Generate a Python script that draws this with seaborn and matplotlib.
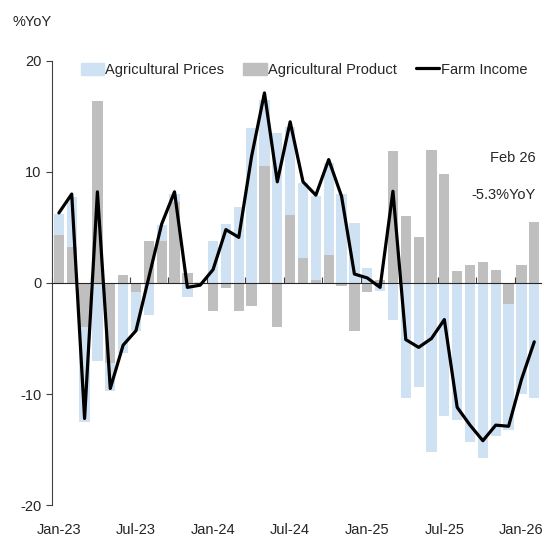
import numpy as np
import pandas as pd
import matplotlib
matplotlib.use("Agg")
import matplotlib.pyplot as plt
from matplotlib.patches import Patch
from matplotlib.lines import Line2D
import seaborn as sns

# monthly %YoY, Jan-23 .. Feb-26
months = pd.date_range("2023-01-01", periods=38, freq="MS")
ag_prices = [6.2, 7.7, -12.5, -7.0, -9.7, -6.3, -4.3, -2.9, 5.2, 8.0,
             -1.3, 0.1, 3.8, 5.3, 6.8, 13.9, 16.5, 13.5, 14.0, 9.0,
             7.8, 10.8, 8.0, 5.4, 1.3, -0.75, -3.3, -10.4, -9.4, -15.2,
             -12.0, -12.3, -14.3, -15.8, -13.8, -13.2, -10.0, -10.4]
ag_product = [4.3, 3.2, -4.0, 16.4, -7.2, 0.7, -0.8, 3.8, 3.8, 7.3,
              0.9, -0.1, -2.5, -0.5, -2.5, -2.1, 10.5, -4.0, 6.1, 2.2,
              0.3, 2.5, -0.3, -4.3, -0.8, 0.3, 11.9, 6.0, 4.1, 12.0,
              9.8, 1.1, 1.6, 1.9, 1.2, -1.9, 1.6, 5.5]
farm_income = [6.3, 8.0, -12.2, 8.2, -9.5, -5.6, -4.3, 0.5, 5.3, 8.2,
               -0.4, -0.2, 1.2, 4.8, 4.1, 11.4, 17.1, 9.1, 14.5, 9.1,
               7.9, 11.1, 7.8, 0.8, 0.45, -0.4, 8.25, -5.1, -5.8, -5.0,
               -3.3, -11.2, -12.8, -14.2, -12.8, -12.9, -8.7, -5.3]

df = pd.DataFrame({"idx": np.arange(len(months)),
                   "prices": ag_prices,
                   "product": ag_product,
                   "income": farm_income})

blue = "#cfe2f3"
grey = "#bfbfbf"

sns.set_style("white")
plt.rcParams["font.family"] = ["Liberation Sans", "DejaVu Sans"]
plt.rcParams["font.size"] = 10.5
plt.rcParams["axes.unicode_minus"] = False

fig = plt.figure(figsize=(5.58, 5.42), dpi=100)
ax = fig.add_axes([0.094, 0.068, 0.875, 0.82])

sns.barplot(data=df, x="idx", y="prices", color=blue, width=0.8,
            saturation=1, linewidth=0, ax=ax, zorder=1)
sns.barplot(data=df, x="idx", y="product", color=grey, width=0.8,
            saturation=1, linewidth=0, ax=ax, zorder=2)
sns.lineplot(data=df, x="idx", y="income", color="black", lw=2.3,
             ax=ax, zorder=4)

ax.set_xlim(-0.5, len(months) - 0.5)
ax.set_ylim(-20, 20)
ax.set_yticks([-20, -10, 0, 10, 20])
ax.set_xlabel("")
ax.set_ylabel("")

# labels at the bottom, every 6 months
lab_pos = np.arange(0, len(months), 6)
ax.set_xticks(lab_pos)
ax.set_xticklabels([months[i].strftime("%b-%y") for i in lab_pos])
ax.tick_params(axis="x", length=0, pad=13)
ax.tick_params(axis="y", length=4, width=0.8, color="#404040",
               direction="out", left=True, pad=4)

for s in ["top", "right", "bottom"]:
    ax.spines[s].set_visible(False)
ax.spines["left"].set_color("#404040")
ax.spines["left"].set_linewidth(0.8)

# zero line with quarterly ticks
zero_ax = ax.secondary_xaxis(0.5)
zero_ax.set_xticks(np.arange(-0.5, len(months), 3))
zero_ax.set_xticklabels([])
zero_ax.tick_params(length=4, width=0.8, color="#404040")
zero_ax.spines["bottom"].set_color("#404040")
zero_ax.spines["bottom"].set_linewidth(0.8)
zero_ax.set_zorder(3)

handles = [Patch(color=blue, label="Agricultural Prices"),
           Patch(color=grey, label="Agricultural Product"),
           Line2D([], [], color="black", lw=2.3, label="Farm Income")]
ax.legend(handles=handles, loc="upper center", bbox_to_anchor=(0.515, 1.025),
          ncol=3, frameon=False, handlelength=1.6, handleheight=0.9,
          handletextpad=0.1, columnspacing=1.3)

fig.text(0.022, 0.972, "%YoY", va="top", ha="left")
ax.text(0.99, 0.78, "Feb 26", transform=ax.transAxes, ha="right", va="center")
ax.text(0.99, 0.697, "-5.3%YoY", transform=ax.transAxes, ha="right", va="center")

fig.savefig("out.png", dpi=100)
